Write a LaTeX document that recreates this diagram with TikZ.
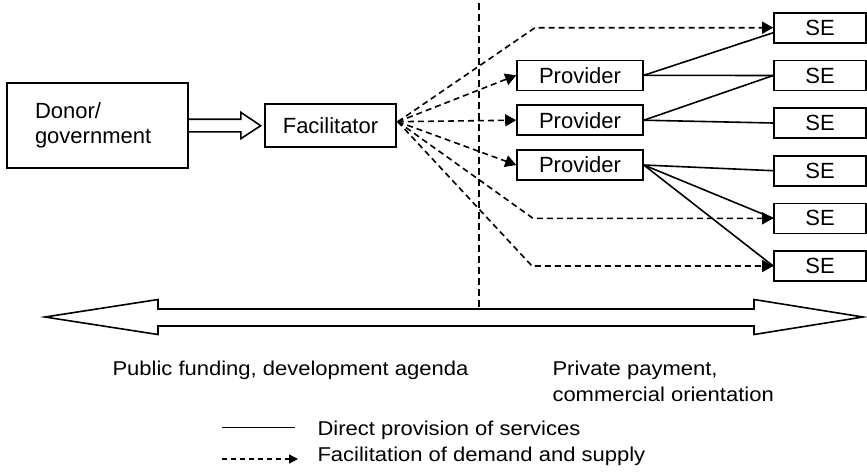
\documentclass[tikz,border=0pt]{standalone}
\usepackage{fontspec}
\setmainfont{Liberation Sans}
\newfontfamily\widefont[FakeStretch=1.1]{Liberation Sans}
\usetikzlibrary{arrows.meta,calc}

\tikzset{every picture/.style={line width=0.8pt}}
\tikzset{
  box/.style={draw,inner sep=0pt,font=\fontsize{11}{12.5}\selectfont},
  provbox/.style={box,minimum width=63pt,minimum height=15pt},
  sebox/.style={box,minimum width=46pt,minimum height=15pt},
  facline/.style={->,>={Triangle[length=5.5pt,width=6pt]},dash pattern=on 3pt off 2pt},
  caption/.style={inner sep=0pt,font=\widefont\fontsize{10}{13.3}\selectfont},
}

\begin{document}
\begin{tikzpicture}[x=0.5pt,y=-0.5pt]
				\useasboundingbox (0,0) rectangle (867,473);
				\node[box,inner xsep=14pt,text width=62.5pt,minimum height=42.5pt,align=left] (donor) at (97.5,125.5) {Donor/\\government};
				\node[box,minimum width=65.5pt,minimum height=21.5pt] (fac) at (330.5,125.7) {Facilitator};
				\node[provbox] (prov1) at (580,75.3) {Provider};
				\node[provbox] (prov2) at (580,120.2) {Provider};
				\node[provbox] (prov3) at (580,165) {Provider};
				\node[sebox] (se1) at (820,27.7) {SE};
				\node[sebox] (se2) at (820,75.5) {SE};
				\node[sebox] (se3) at (820,123) {SE};
				\node[sebox] (se4) at (820,170.7) {SE};
				\node[sebox] (se5) at (820,218.3) {SE};
				\node[sebox] (se6) at (820,266) {SE};
				\draw[dash pattern=on 3.5pt off 2pt] (479,3)--(479,309); %public/private
				% funds to facilitator
				\draw ($(donor.east)+(0,-6.3)$)--++(52,0)--++(0,-6.9)--($(fac.west)+(-3.5,0)$)
					--($(donor.east)+(52,13.2)$)--++(0,-6.9)--($(donor.east)+(0,6.3)$);
				% facilitation
				\coordinate (hub) at ($(fac.east)+(1,-4)$);
				\draw[facline] (hub)--(535,0 |- se1.west)--(se1.west);
				\draw[facline] (hub)--(prov1.west);
				\draw[facline] (hub)--(prov2.west);
				\draw[facline] (hub)--(prov3.west);
				\draw[facline] (hub)--(533,0 |- se5.west)--(se5.west);
				\draw[facline] (hub)--(532,0 |- se6.west)--(se6.west);
				% direct provision
				\draw (prov1.east)--($(se1.west)+(0,5)$);
				\draw (prov1.east)--(se2.west);
				\draw (prov2.east)--(se2.west);
				\draw (prov2.east)--(se3.west);
				\draw (prov3.east)--(se4.west);
				\draw (prov3.east)--(se5.west);
				\draw (prov3.east)--(se6.west);
				% scale
				\draw (45,317)--(158,299.5)--(158,309)--(754,309)--(754,299.5)--(863,317)
					--(754,334.5)--(754,326)--(158,326)--(158,334.5)--cycle;
				\node[caption,anchor=base west] (pub) at (111.7,375) {Public funding, development agenda};
				\node[caption,anchor=base west,align=left] (priv) at (551.7,401.7) {Private payment,\\commercial orientation};
				% legend
				\node[caption,anchor=base west] (legdirect) at (316.7,435) {Direct provision of services};
				\node[caption,anchor=base west] (legfac) at (316.7,461) {Facilitation of demand and supply};
				\coordinate (lega) at (221.7,427.5);
				\coordinate (legb) at (222,459);
				\draw (lega)--++(73.3,0);
				\draw[facline,>={Triangle[length=4.5pt,width=4.5pt]},dash pattern=on 2.5pt off 2pt] (legb)--++(76,0);
			\end{tikzpicture}
\end{document}
